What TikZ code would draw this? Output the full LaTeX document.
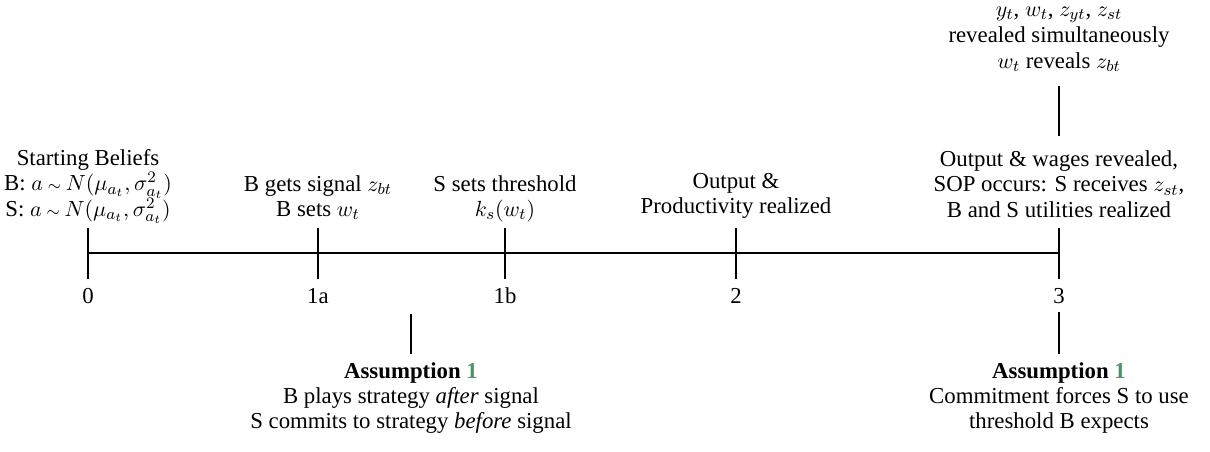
\documentclass[tikz,border=0pt]{standalone}
\usepackage{fontspec}
\setmainfont{Liberation Serif}
\definecolor{asgreen}{RGB}{64,155,95}
\newcommand{\sm}[1]{\smash{$#1$}}
\begin{document}
\begin{tikzpicture}[x=0.5pt,y=-0.5pt,
  lbl/.style={font=\fontsize{11.4}{12.6}\selectfont, align=center, inner sep=0pt},
  rule/.style={line width=1pt}]
\useasboundingbox (0,0) rectangle (1210,451);
% timeline coordinates
\coordinate (t0) at (88,253);
\coordinate (t3) at (1059,253);
\foreach \n/\x in {0/88, 1a/318, 1b/505, 2/736, 3/1059}{
  \coordinate (up\n) at (\x,228);
  \coordinate (dn\n) at (\x,279);
  \node[lbl] (num\n) at (\x,296) {\n};
}
\draw[rule] (t0) -- (t3);
\foreach \n in {0,1a,1b,2,3}{ \draw[rule] (up\n) -- (dn\n); }
% labels above
\node[lbl] (start) at (88,183) {Starting Beliefs\\B: \sm{a\mathbin{\scriptstyle\sim} N(\mu_{a_t},\sigma^2_{a_t})}\\S: \sm{a\mathbin{\scriptstyle\sim} N(\mu_{a_t},\sigma^2_{a_t})}};
\node[lbl] (ev1a) at (318,196) {B gets signal \sm{z_{bt}}\\B sets \sm{w_t}};
\node[lbl] (ev1b) at (505,196) {S sets threshold\\\sm{k_s(w_t)}};
\node[lbl] (ev2) at (736,196) {Output \&\\Productivity realized};
\node[lbl] (ev3) at (1059,184) {Output \& wages revealed,\\SOP occurs: S receives \sm{z_{st}},\\B and S utilities realized};
\node[lbl, font=\fontsize{11.4}{13}\selectfont] (top) at (1059,41) {\sm{y_t}, \sm{w_t}, \sm{z_{yt}}, \sm{z_{st}}\\revealed simultaneously\\\sm{w_t} reveals \sm{z_{bt}}};
\coordinate (topA) at (1059,86);
\coordinate (topB) at (1059,136);
\draw[rule] (topA) -- (topB);
% assumptions below
\coordinate (asAa) at (411,314);
\coordinate (asAb) at (411,354);
\draw[rule] (asAa) -- (asAb);
\node[lbl] (asA) at (411,398) {\textbf{Assumption \textcolor{asgreen}{1}}\\B plays strategy \textit{after} signal\\S commits to strategy \textit{before} signal};
\coordinate (asBa) at (1059,312);
\coordinate (asBb) at (1059,354);
\draw[rule] (asBa) -- (asBb);
\node[lbl] (asB) at (1059,398) {\textbf{Assumption \textcolor{asgreen}{1}}\\Commitment forces S to use\\threshold B expects};
\end{tikzpicture}
\end{document}
